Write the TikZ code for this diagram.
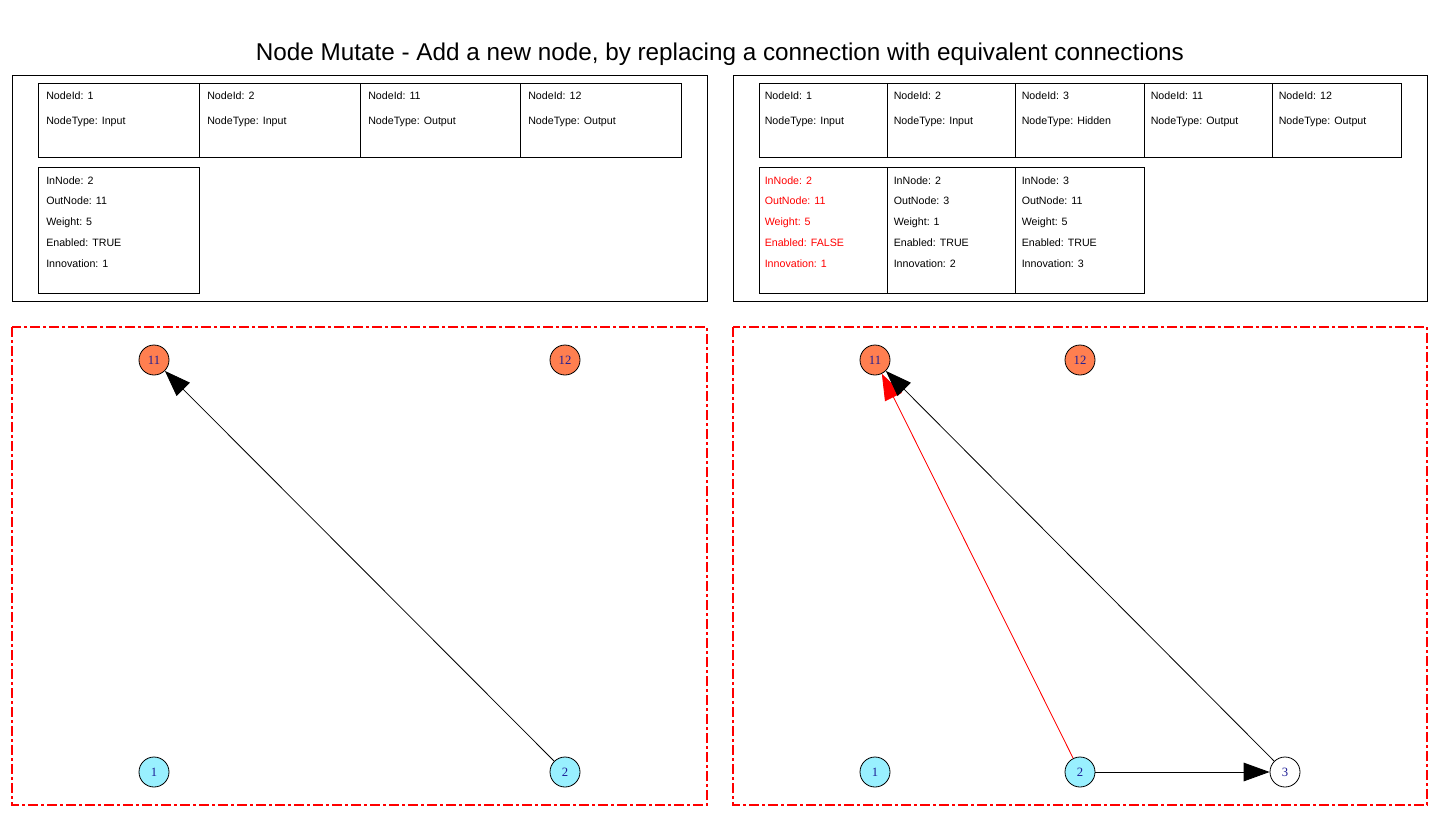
\documentclass[tikz,border=0pt]{standalone}
\usepackage{fontspec}
\setmainfont{Liberation Sans}
\newfontfamily\serifnode{Liberation Serif}
\usetikzlibrary{arrows.meta}
\definecolor{outcol}{RGB}{255,127,80}
\definecolor{incol}{RGB}{153,240,255}
\definecolor{lblcol}{RGB}{30,30,150}
\definecolor{ddred}{RGB}{255,0,0}
\tikzset{
  frame/.style={draw, line width=0.75pt},
  cell/.style={draw, line width=0.75pt, anchor=north west, inner sep=0pt, outer sep=0pt},
  txt/.style={anchor=base west, inner sep=0pt, font=\fontsize{8}{9.5}\selectfont},
  redtxt/.style={txt, text=red},
  gnode/.style={circle, draw, line width=0.6pt, minimum size=22.5pt, inner sep=0pt, font=\serifnode\fontsize{9.5}{11}\selectfont, text=lblcol},
  outnode/.style={gnode, fill=outcol},
  innode/.style={gnode, fill=incol},
  hidnode/.style={gnode, fill=white},
  edge/.style={line width=0.6pt, -{Triangle[length=19.5pt,width=14pt]}},
  ddframe/.style={color=ddred, draw=ddred, line width=0.82pt, dash pattern=on 7.5pt off 2.25pt on 2.25pt off 2.25pt}
}
\begin{document}
\begin{tikzpicture}[x=0.75pt,y=-0.75pt]
\useasboundingbox (0,0) rectangle (1440,818);

\node[anchor=base, inner sep=0pt, font=\fontsize{18.2}{21}\selectfont] (title) at (720,60) {Node Mutate - Add a new node, by replacing a connection with equivalent connections};

% outer frames
\node[frame, anchor=north west, inner sep=0pt, minimum width={695*0.75pt}, minimum height={226*0.75pt}] (Lframe) at (12,75) {};
\node[frame, anchor=north west, inner sep=0pt, minimum width={694*0.75pt}, minimum height={226*0.75pt}] (Rframe) at (733,75) {};
\draw[ddframe] (12,327) rectangle (707,805);
\draw[ddframe] (733,327) rectangle (1427,805);
\coordinate (Lgraph) at (12,327);
\coordinate (Rgraph) at (733,327);

% ---------- left tables ----------
\node[cell, minimum width={161*0.75pt}, minimum height={74*0.75pt}] (ln1) at (38,83) {};
\node[cell, minimum width={161*0.75pt}, minimum height={74*0.75pt}] (ln2) at (199,83) {};
\node[cell, minimum width={160*0.75pt}, minimum height={74*0.75pt}] (ln3) at (360,83) {};
\node[cell, minimum width={161*0.75pt}, minimum height={74*0.75pt}] (ln4) at (520,83) {};
\node[txt] (ln1a) at (46,99.5) {NodeId: 1};
\node[txt] (ln1b) at (46,124) {NodeType: Input};
\node[txt] (ln2a) at (207,99.5) {NodeId: 2};
\node[txt] (ln2b) at (207,124) {NodeType: Input};
\node[txt] (ln3a) at (368,99.5) {NodeId: 11};
\node[txt] (ln3b) at (368,124) {NodeType: Output};
\node[txt] (ln4a) at (528,99.5) {NodeId: 12};
\node[txt] (ln4b) at (528,124) {NodeType: Output};

\node[cell, minimum width={161*0.75pt}, minimum height={126*0.75pt}] (lc1) at (38,167) {};
\node[txt] (lc1a) at (46,184) {InNode: 2};
\node[txt] (lc1b) at (46,204.5) {OutNode: 11};
\node[txt] (lc1c) at (46,225.5) {Weight: 5};
\node[txt] (lc1d) at (46,246) {Enabled: TRUE};
\node[txt] (lc1e) at (46,267) {Innovation: 1};

% ---------- right tables ----------
\node[cell, minimum width={128*0.75pt}, minimum height={74*0.75pt}] (rn1) at (759,83) {};
\node[cell, minimum width={128*0.75pt}, minimum height={74*0.75pt}] (rn2) at (887,83) {};
\node[cell, minimum width={129*0.75pt}, minimum height={74*0.75pt}] (rn3) at (1015,83) {};
\node[cell, minimum width={128*0.75pt}, minimum height={74*0.75pt}] (rn4) at (1144,83) {};
\node[cell, minimum width={129*0.75pt}, minimum height={74*0.75pt}] (rn5) at (1272,83) {};
\node[txt] (rn1a) at (764.5,99.5) {NodeId: 1};
\node[txt] (rn1b) at (764.5,124) {NodeType: Input};
\node[txt] (rn2a) at (893.5,99.5) {NodeId: 2};
\node[txt] (rn2b) at (893.5,124) {NodeType: Input};
\node[txt] (rn3a) at (1021.5,99.5) {NodeId: 3};
\node[txt] (rn3b) at (1021.5,124) {NodeType: Hidden};
\node[txt] (rn4a) at (1150.5,99.5) {NodeId: 11};
\node[txt] (rn4b) at (1150.5,124) {NodeType: Output};
\node[txt] (rn5a) at (1278.5,99.5) {NodeId: 12};
\node[txt] (rn5b) at (1278.5,124) {NodeType: Output};

\node[cell, minimum width={128*0.75pt}, minimum height={126*0.75pt}] (rc1) at (759,167) {};
\node[cell, minimum width={128*0.75pt}, minimum height={126*0.75pt}] (rc2) at (887,167) {};
\node[cell, minimum width={129*0.75pt}, minimum height={126*0.75pt}] (rc3) at (1015,167) {};
\node[redtxt] (rc1a) at (764.5,184) {InNode: 2};
\node[redtxt] (rc1b) at (764.5,204.5) {OutNode: 11};
\node[redtxt] (rc1c) at (764.5,225.5) {Weight: 5};
\node[redtxt] (rc1d) at (764.5,246) {Enabled: FALSE};
\node[redtxt] (rc1e) at (764.5,267) {Innovation: 1};
\node[txt] (rc2a) at (893.5,184) {InNode: 2};
\node[txt] (rc2b) at (893.5,204.5) {OutNode: 3};
\node[txt] (rc2c) at (893.5,225.5) {Weight: 1};
\node[txt] (rc2d) at (893.5,246) {Enabled: TRUE};
\node[txt] (rc2e) at (893.5,267) {Innovation: 2};
\node[txt] (rc3a) at (1021.5,184) {InNode: 3};
\node[txt] (rc3b) at (1021.5,204.5) {OutNode: 11};
\node[txt] (rc3c) at (1021.5,225.5) {Weight: 5};
\node[txt] (rc3d) at (1021.5,246) {Enabled: TRUE};
\node[txt] (rc3e) at (1021.5,267) {Innovation: 3};

% ---------- left graph ----------
\node[outnode] (L11) at (154,360) {11};
\node[outnode] (L12) at (565,360) {12};
\node[innode] (L1) at (154,772) {1};
\node[innode] (L2) at (565,772) {2};
\draw[edge] (L2) -- (L11);

% ---------- right graph ----------
\node[outnode] (R11) at (875,360) {11};
\node[outnode] (R12) at (1080,360) {12};
\node[innode] (R1) at (875,772) {1};
\node[innode] (R2) at (1080,772) {2};
\node[hidnode] (R3) at (1285,772) {3};
\draw[edge, draw=red, fill=red] (R2) -- (R11);
\draw[edge] (R3) -- (R11);
\draw[edge] (R2) -- (R3);
\end{tikzpicture}
\end{document}
